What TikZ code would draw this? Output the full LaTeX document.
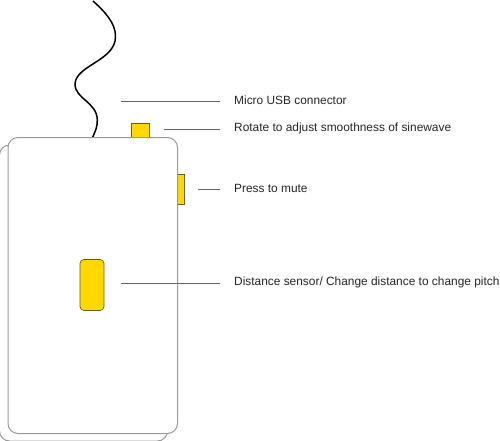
\documentclass[tikz,border=0pt]{standalone}
\usepackage{fontspec}
\setmainfont{Liberation Sans}
\definecolor{bodygray}{HTML}{999999}
\definecolor{leadgray}{HTML}{666666}
\definecolor{partyellow}{HTML}{FFD800}
\definecolor{partedge}{HTML}{6B5F10}
\tikzset{
    shell/.style={draw=bodygray, line width=1pt, fill=white, rounded corners=10pt, minimum width=#1, inner sep=0pt, anchor=north west},
    part/.style={draw=partedge, line width=0.7pt, fill=partyellow, inner sep=0pt},
    leader/.style={draw=leadgray, line width=0.7pt},
    caption/.style={anchor=west, inner xsep=14pt, inner ysep=0pt, font=\fontsize{11.9}{14}\selectfont, text=black!85}
}
\begin{document}
\begin{tikzpicture}[x=1pt, y=-1pt]
        \useasboundingbox (0, 0) rectangle (500, 441);

        \node[shell=168pt, minimum height=296pt] (rear) at (-1, 144.5) {};

        \draw[line width=1.5pt, black] (93, 1) .. controls (104, 11) and (116, 23) .. (115.5, 37)
            .. controls (115, 61) and (76, 65) .. (75, 84)
            .. controls (75, 99) and (97, 102) .. (97.3, 120)
            .. controls (97.5, 127) and (95, 132) .. (92.7, 137);

        \node[part, minimum width=18pt, minimum height=14pt] (knob) at (140, 130.5) {};
        \node[part, minimum width=7pt, minimum height=30pt] (mute) at (180.5, 189.5) {};
        \node[shell=169.5pt, minimum height=296pt] (front) at (7.5, 137) {};
        \node[part, rounded corners=4pt, minimum width=24pt, minimum height=51pt] (sensor) at (92, 285) {};

        \coordinate (usbend) at (121, 101);
        \coordinate (knobend) at (164, 129);
        \coordinate (muteend) at (198, 189.5);
        \coordinate (sensorend) at (121, 283);

        \node[caption] (usblabel) at (220, 100.5) {Micro USB connector};
        \node[caption] (knoblabel) at (220, 128) {Rotate to adjust smoothness of sinewave};
        \node[caption] (mutelabel) at (220, 188.5) {Press to mute};
        \node[caption] (sensorlabel) at (220, 282.5) {Distance sensor/ Change distance to change pitch};

        \draw[leader] (usbend) -- (220, 101);
        \draw[leader] (knobend) -- (220, 129);
        \draw[leader] (muteend) -- (220, 189.5);
        \draw[leader] (sensorend) -- (220, 283);
    \end{tikzpicture}
\end{document}
